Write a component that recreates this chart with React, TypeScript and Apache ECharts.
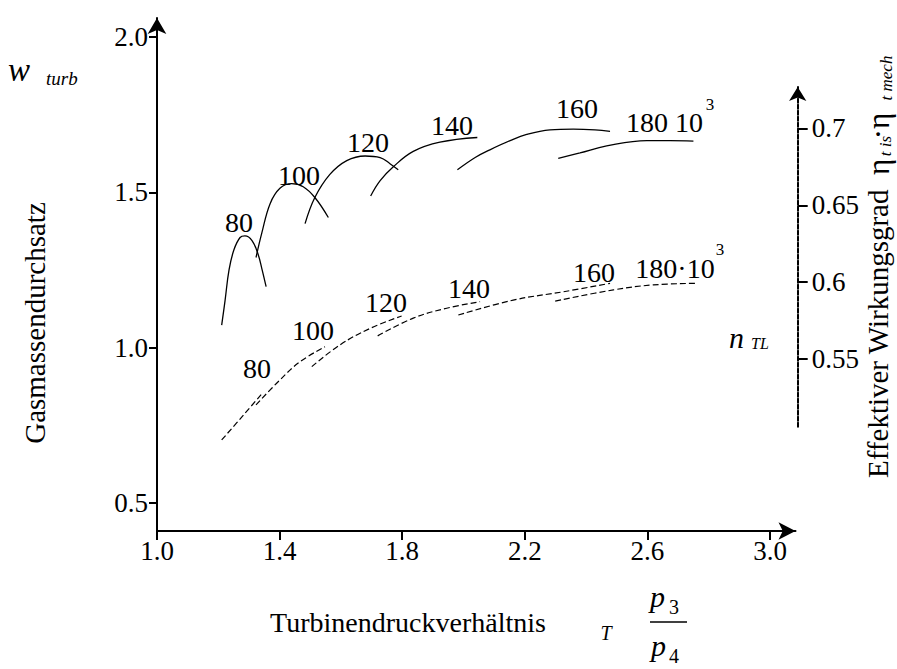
import React, { useEffect, useRef } from "react";
import * as echarts from "echarts";

const FONT = "'Liberation Serif', 'Times New Roman', serif";

// Tick values
const xTicks = [1.0, 1.4, 1.8, 2.2, 2.6, 3.0];
const massTicks = [0.5, 1.0, 1.5, 2.0];
const effTicks = [0.55, 0.6, 0.65, 0.7];

// Speed lines n_TL (·10^3)
const speeds = ["80", "100", "120", "140", "160", "180"];

// Effective efficiency (solid curves), [pressure ratio, efficiency]
const eff80 = [[1.211, 0.572], [1.222, 0.588], [1.235, 0.608], [1.251, 0.621], [1.271, 0.629], [1.287, 0.63], [1.31, 0.627], [1.33, 0.618], [1.343, 0.608], [1.356, 0.597]];
const eff100 = [[1.323, 0.616], [1.342, 0.632], [1.369, 0.651], [1.401, 0.661], [1.439, 0.664], [1.477, 0.662], [1.515, 0.655], [1.559, 0.642]];
const eff120 = [[1.483, 0.638], [1.515, 0.655], [1.564, 0.67], [1.619, 0.679], [1.679, 0.682], [1.728, 0.681], [1.76, 0.677], [1.787, 0.673]];
const eff140 = [[1.697, 0.656], [1.728, 0.666], [1.771, 0.675], [1.836, 0.685], [1.923, 0.691], [2.045, 0.694]];
const eff160 = [[1.98, 0.673], [2.038, 0.681], [2.086, 0.686], [2.152, 0.692], [2.206, 0.696], [2.282, 0.699], [2.358, 0.6995], [2.429, 0.699], [2.478, 0.698]];
const eff180 = [[2.309, 0.6805], [2.38, 0.684], [2.467, 0.6885], [2.598, 0.692], [2.674, 0.692], [2.75, 0.6917]];

// Gas mass flow (dashed curves), [pressure ratio, mass flow]
const mass80 = [[1.211, 0.703], [1.282, 0.783], [1.345, 0.855]];
const mass100 = [[1.323, 0.816], [1.401, 0.896], [1.467, 0.955], [1.548, 1.003]];
const mass120 = [[1.505, 0.939], [1.597, 1.009], [1.695, 1.062], [1.798, 1.102]];
const mass140 = [[1.72, 1.038], [1.836, 1.095], [1.945, 1.127], [2.054, 1.148]];
const mass160 = [[1.983, 1.105], [2.162, 1.153], [2.326, 1.18], [2.478, 1.207]];
const mass180 = [[2.299, 1.15], [2.489, 1.186], [2.619, 1.202], [2.761, 1.207]];

const effCurves = [eff80, eff100, eff120, eff140, eff160, eff180];
const massCurves = [mass80, mass100, mass120, mass140, mass160, mass180];

function txt(text: string, x: number, y: number, size: number, opts: any = {}) {
  return {
    type: "text",
    x,
    y,
    silent: true,
    style: {
      text,
      fill: "#000",
      fontFamily: FONT,
      fontSize: size,
      fontStyle: opts.italic ? "italic" : "normal",
      align: opts.align || "center",
      verticalAlign: "middle",
    },
  };
}

export default function App() {
  const ref = useRef<HTMLDivElement>(null);

  useEffect(() => {
    document.body.style.margin = "0";
    if (!ref.current) return;
    const chart = echarts.init(ref.current, undefined, { renderer: "svg" });

    const axisText = { color: "#000", fontFamily: FONT, fontSize: 27 };

    const series: any[] = [];
    effCurves.forEach((c, i) => {
      series.push({
        name: "eta " + speeds[i],
        type: "line",
        xAxisIndex: 0,
        yAxisIndex: 1,
        data: c,
        smooth: 0.4,
        symbol: "none",
        lineStyle: { color: "#000", width: 1.3 },
      });
    });
    massCurves.forEach((c, i) => {
      series.push({
        name: "m " + speeds[i],
        type: "line",
        xAxisIndex: 0,
        yAxisIndex: 0,
        data: c,
        smooth: 0.4,
        symbol: "none",
        lineStyle: { color: "#000", width: 1.2, type: [6, 3] },
      });
    });

    const solidLabelPos = [[239, 222], [299, 175], [368, 142], [452, 125], [577, 108]];
    const dashedLabelPos = [[257, 368], [313, 330], [386, 302], [469, 288], [594, 272]];

    const graphics: any[] = [];
    solidLabelPos.forEach((p, i) => graphics.push(txt(speeds[i], p[0], p[1], 28)));
    graphics.push(txt(speeds[5] + " 10", 664.5, 122, 28));
    graphics.push(txt("3", 710, 104, 17));
    dashedLabelPos.forEach((p, i) => graphics.push(txt(speeds[i], p[0], p[1], 28)));
    graphics.push(txt(speeds[5] + "\u00b710", 675, 268, 28));
    graphics.push(txt("3", 720, 249, 17));

    // axis titles
    graphics.push({
      type: "text",
      x: 35,
      y: 323,
      rotation: Math.PI / 2,
      silent: true,
      style: { text: "Gasmassendurchsatz", fill: "#000", fontFamily: FONT, fontSize: 29, align: "center", verticalAlign: "middle" },
    });
    graphics.push(txt("w", 8, 70, 33, { italic: true, align: "left" }));
    graphics.push(txt("turb", 46, 78, 19, { italic: true, align: "left" }));
    graphics.push(txt("n", 729, 337, 30, { italic: true, align: "left" }));
    graphics.push(txt("TL", 751, 343, 16, { italic: true, align: "left" }));

    graphics.push(txt("Turbinendruckverhältnis", 408, 622.5, 28));
    graphics.push(txt("T", 606, 633, 20, { italic: true }));
    graphics.push(txt("p", 650, 596.5, 30, { italic: true, align: "left" }));
    graphics.push(txt("3", 669, 607, 20, { align: "left" }));
    graphics.push({ type: "line", silent: true, shape: { x1: 650, y1: 622, x2: 687, y2: 622 }, style: { stroke: "#000", lineWidth: 1.5 } });
    graphics.push(txt("p", 651, 645, 30, { italic: true, align: "left" }));
    graphics.push(txt("4", 669, 656, 20, { align: "left" }));

    // right title (rotated group)
    graphics.push({
      type: "group",
      x: 878,
      y: 478,
      rotation: Math.PI / 2,
      silent: true,
      children: [
        txt("Effektiver Wirkungsgrad", 0, 0, 29, { align: "left" }),
        txt("\u03b7", 311, 0, 31, { align: "center" }),
        txt("t is", 332, 7, 17, { italic: true, align: "center" }),
        txt("\u00b7\u03b7", 352, 0, 31, { align: "center" }),
        txt("t mech", 400, 8, 17, { italic: true, align: "center" }),
      ],
    });

    const option: any = {
      animation: false,
      backgroundColor: "#fff",
      grid: [
        { left: 157, right: 101.5, top: 18, bottom: 138 },
        { left: 797.7, width: 10, top: 87, height: 339.7 },
      ],
      xAxis: [
        {
          type: "value",
          gridIndex: 0,
          min: 1.0,
          max: 3.083,
          axisLine: {
            show: true,
            onZero: false,
            symbol: ["none", "arrow"],
            symbolSize: [13, 17],
            lineStyle: { color: "#000", width: 2 },
          },
          axisTick: { show: true, length: 9, customValues: xTicks, lineStyle: { color: "#000", width: 2 } },
          axisLabel: { ...axisText, margin: 6, customValues: xTicks, formatter: (v: number) => v.toFixed(1) },
          splitLine: { show: false },
        },
        { type: "value", gridIndex: 1, min: 0, max: 1, show: false },
      ],
      yAxis: [
        {
          type: "value",
          gridIndex: 0,
          position: "left",
          min: 0.41,
          max: 2.061,
          axisLine: {
            show: true,
            onZero: false,
            symbol: ["none", "arrow"],
            symbolSize: [14, 16],
            lineStyle: { color: "#000", width: 2 },
          },
          axisTick: { show: true, length: 8, customValues: massTicks, lineStyle: { color: "#000", width: 2 } },
          axisLabel: { ...axisText, margin: 9, customValues: massTicks, formatter: (v: number) => v.toFixed(1) },
          splitLine: { show: false },
        },
        { type: "value", gridIndex: 0, min: 0.4382, max: 0.7717, show: false },
        {
          type: "value",
          gridIndex: 1,
          position: "left",
          min: 0.506,
          max: 0.7269,
          axisLine: {
            show: true,
            onZero: false,
            symbol: ["none", "arrow"],
            symbolSize: [13, 14],
            lineStyle: { color: "#000", width: 2, type: [4, 2] },
          },
          axisTick: { show: true, inside: true, length: 10, customValues: effTicks, lineStyle: { color: "#000", width: 2 } },
          axisLabel: { ...axisText, inside: true, margin: 14, customValues: effTicks, formatter: (v: number) => String(v) },
          splitLine: { show: false },
        },
      ],
      series,
      graphic: graphics,
    };

    chart.setOption(option);
    return () => chart.dispose();
  }, []);

  return <div ref={ref} style={{ width: 897, height: 669 }} />;
}
